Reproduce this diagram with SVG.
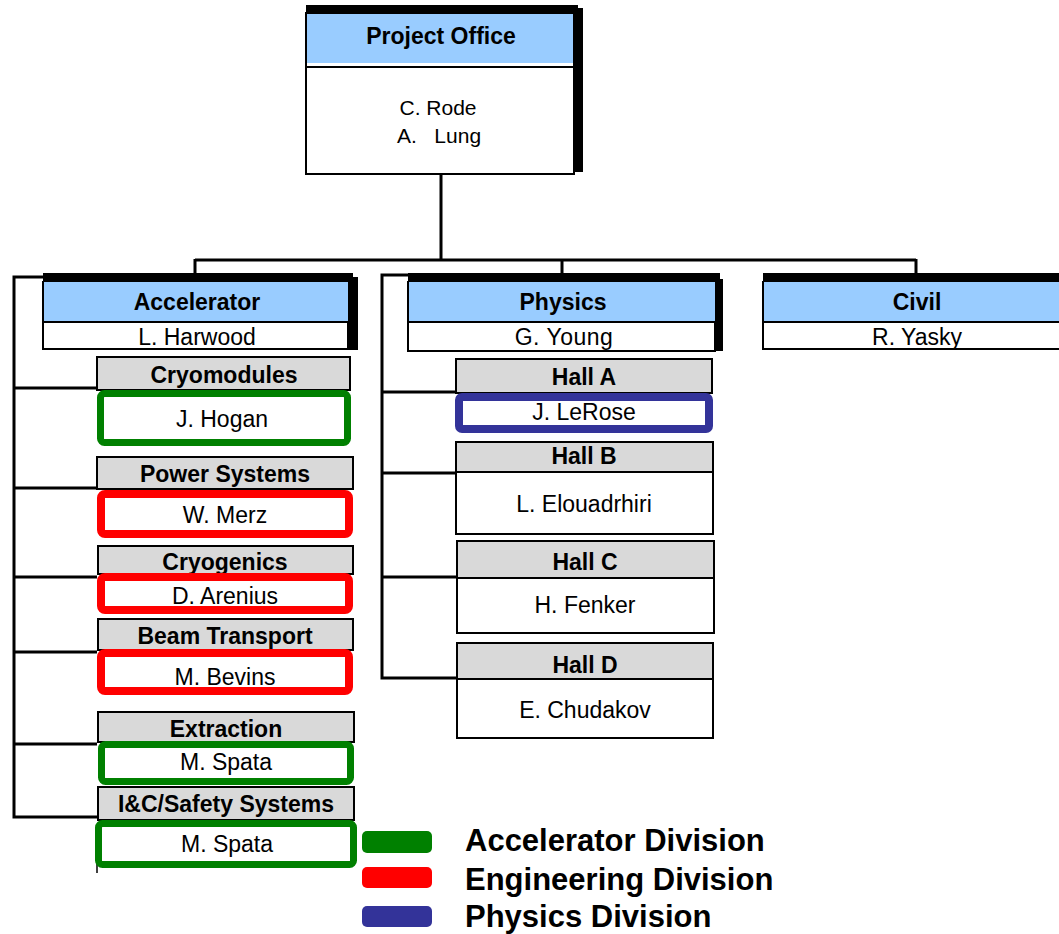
<svg xmlns="http://www.w3.org/2000/svg" width="1059" height="934" viewBox="0 0 1059 934">
<style>
.t{font-family:"Liberation Sans",Arial,sans-serif;font-size:23px;fill:#000;text-anchor:middle}
.b{font-weight:bold}
.n{font-size:23px}
.lg{font-family:"Liberation Sans",Arial,sans-serif;font-size:31px;font-weight:bold;fill:#000}
.blue{fill:#99CCFF}
.gh{fill:#D9D9D9;stroke:#000;stroke-width:2}
.body{fill:#fff;stroke:#000;stroke-width:2}
.sh{fill:#000}
.cg{fill:#fff;stroke:#008000;stroke-width:7}
.cr{fill:#fff;stroke:#FF0000;stroke-width:8}
.cb{fill:#fff;stroke:#333399;stroke-width:8}
.ln{fill:none;stroke:#000;stroke-width:3}
</style>
<rect width="1059" height="934" fill="#fff"/>
<g id="connectors">
<path class="ln" d="M441,175 V260 M195,260 H916 M195,259 V274 M562,259 V274 M916,259 V274"/>
<path class="ln" d="M43,277 H14 V817 H97 M14,388 H97 M14,488 H97 M14,577 H97 M14,652 H97 M14,744 H97"/>
<path class="ln" d="M408,275 H382 V678 H457 M382,392 H456 M382,473 H456 M382,577 H457"/>
</g>
<g id="project-office">
<rect class="body" x="306" y="13" width="268" height="161"/>
<rect class="blue" x="307" y="14" width="266" height="49"/>
<line x1="307" y1="67" x2="573" y2="67" stroke="#000" stroke-width="2"/>
<rect class="sh" x="306" y="5" width="272" height="9"/>
<rect class="sh" x="573" y="8" width="10" height="164"/>
<text class="t b" x="441" y="44">Project Office</text>
<text class="t" x="438" y="115" style="font-size:21px">C. Rode</text>
<text class="t" x="397" y="143" style="font-size:21px;text-anchor:start" xml:space="preserve">A.   Lung</text>
</g>
<g id="accelerator">
<rect class="body" x="43" y="282" width="305" height="67"/>
<rect class="blue" x="44" y="282" width="304" height="40"/>
<line x1="44" y1="322" x2="348" y2="322" stroke="#000" stroke-width="2"/>
<rect class="sh" x="43" y="273" width="310" height="9"/>
<rect class="sh" x="348" y="277" width="10" height="73"/>
<text class="t b" x="197" y="310">Accelerator</text>
<text class="t" x="197" y="345">L. Harwood</text>
</g>
<g id="physics">
<rect class="body" x="408" y="282" width="307" height="69"/>
<rect class="blue" x="409" y="282" width="306" height="40"/>
<line x1="409" y1="322" x2="715" y2="322" stroke="#000" stroke-width="2"/>
<rect class="sh" x="408" y="273" width="312" height="9"/>
<rect class="sh" x="715" y="279" width="8" height="72"/>
<text class="t b" x="563" y="310">Physics</text>
<text class="t" x="564" y="345" style="letter-spacing:0.5px">G. Young</text>
</g>
<g id="civil">
<rect class="body" x="763" y="282" width="300" height="67"/>
<rect class="blue" x="764" y="282" width="299" height="40"/>
<line x1="764" y1="322" x2="1063" y2="322" stroke="#000" stroke-width="2"/>
<rect class="sh" x="763" y="273" width="300" height="9"/>
<text class="t b" x="917" y="310">Civil</text>
<text class="t" x="917" y="345">R. Yasky</text>
</g>
<g id="cryomodules">
<rect class="gh" x="97" y="357" width="253" height="33"/>
<text class="t b" x="224" y="383">Cryomodules</text>
<rect class="cg" x="100.5" y="393.5" width="247" height="49" rx="4"/>
<text class="t" x="222" y="427">J. Hogan</text>
</g>
<g id="power-systems">
<rect class="gh" x="97" y="457" width="256" height="32"/>
<text class="t b" x="225" y="482">Power Systems</text>
<rect class="cr" x="101" y="494" width="248" height="40" rx="4"/>
<text class="t" x="225" y="523">W. Merz</text>
</g>
<g id="cryogenics">
<rect class="gh" x="98" y="546" width="255" height="28"/>
<text class="t b" x="225" y="570">Cryogenics</text>
<rect class="cr" x="101" y="577" width="248" height="33" rx="4"/>
<text class="t" x="225" y="604">D. Arenius</text>
</g>
<g id="beam-transport">
<rect class="gh" x="98" y="619" width="255" height="31"/>
<text class="t b" x="225" y="644">Beam Transport</text>
<rect class="cr" x="101" y="653" width="248" height="38" rx="4"/>
<text class="t" x="225" y="685">M. Bevins</text>
</g>
<g id="extraction">
<rect class="gh" x="98" y="712" width="256" height="30"/>
<text class="t b" x="226" y="737">Extraction</text>
<rect class="cg" x="101.5" y="744.5" width="249" height="37" rx="4"/>
<text class="t" x="226" y="770">M. Spata</text>
</g>
<g id="ic-safety">
<line x1="97" y1="860" x2="97" y2="873" stroke="#000" stroke-width="1.5"/>
<rect class="gh" x="98" y="787" width="256" height="33"/>
<text class="t b" x="226" y="812">I&amp;C/Safety Systems</text>
<rect class="cg" x="98.5" y="823.5" width="255" height="41" rx="4"/>
<text class="t" x="227" y="852">M. Spata</text>
</g>
<g id="hall-a">
<rect class="gh" x="456" y="359" width="256" height="34"/>
<text class="t b" x="584" y="385">Hall A</text>
<rect class="cb" x="459" y="397" width="250" height="32" rx="3"/>
<text class="t" x="584" y="420">J. LeRose</text>
</g>
<g id="hall-b">
<rect class="body" x="456" y="472" width="257" height="62"/>
<rect class="gh" x="456" y="442" width="257" height="30"/>
<text class="t b" x="584" y="464">Hall B</text>
<text class="t" x="584" y="512">L. Elouadrhiri</text>
</g>
<g id="hall-c">
<rect class="body" x="457" y="578" width="257" height="55"/>
<rect class="gh" x="457" y="541" width="257" height="37"/>
<text class="t b" x="585" y="570">Hall C</text>
<text class="t" x="585" y="613">H. Fenker</text>
</g>
<g id="hall-d">
<rect class="body" x="457" y="679" width="256" height="59"/>
<rect class="gh" x="457" y="643" width="256" height="36"/>
<text class="t b" x="585" y="673">Hall D</text>
<text class="t" x="585" y="718">E. Chudakov</text>
</g>
<g id="legend">
<rect x="362" y="831" width="70" height="22" rx="5" fill="#008000"/>
<rect x="362" y="867" width="70" height="21" rx="5" fill="#FF0000"/>
<rect x="362" y="906" width="70" height="21" rx="5" fill="#333399"/>
<text class="lg" x="465" y="851">Accelerator Division</text>
<text class="lg" x="465" y="890">Engineering Division</text>
<text class="lg" x="465" y="927">Physics Division</text>
</g>
</svg>
